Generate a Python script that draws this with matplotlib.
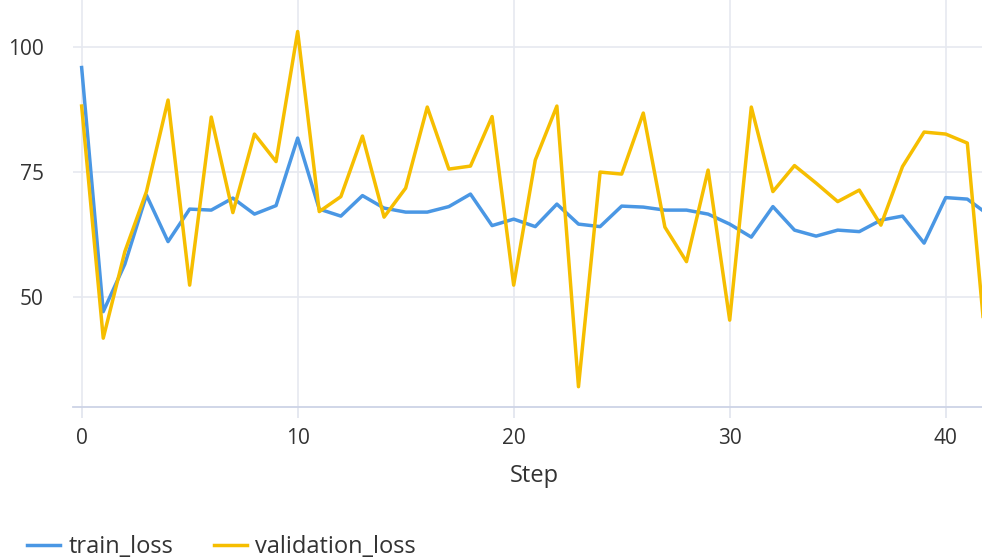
import matplotlib
matplotlib.use("Agg")
import matplotlib.pyplot as plt

plt.rcParams['font.family'] = ['Open Sans', 'DejaVu Sans']

steps = list(range(43))
train_loss = [95.8, 47.0, 56.5, 70.3, 61.0, 67.5, 67.3, 69.7, 66.5, 68.2,
              81.7, 67.5, 66.1, 70.2, 67.7, 66.9, 66.9, 68.0, 70.5, 64.2,
              65.5, 64.0, 68.5, 64.5, 64.0, 68.1, 67.9, 67.3, 67.3, 66.5,
              64.5, 61.9, 68.0, 63.3, 62.1, 63.3, 63.0, 65.3, 66.1, 60.7,
              69.8, 69.5, 66.3]
validation_loss = [88.1, 41.7, 59.0, 71.0, 89.3, 52.3, 85.9, 66.8, 82.5, 77.0,
                   103.0, 67.0, 70.0, 82.1, 65.9, 71.7, 87.9, 75.5, 76.1, 86.0,
                   52.3, 77.3, 88.1, 32.0, 74.9, 74.5, 86.7, 63.9, 57.0, 75.3,
                   45.3, 87.9, 71.0, 76.2, 72.7, 69.0, 71.3, 64.3, 76.0, 82.9,
                   82.5, 80.7, 33.0]
x_ticks = [0, 10, 20, 30, 40]
y_ticks = [50, 75, 100]

W, H = 982, 559
fig = plt.figure(figsize=(W / 100, H / 100), dpi=100)
fig.patch.set_facecolor('white')
ax = fig.add_axes([73 / W, (H - 406.7) / H, (W - 73) / W, 406.7 / H])

blue = '#4A97E4'
gold = '#F6BE00'
ax.plot(steps, train_loss, color=blue, lw=2.5, label='train_loss', zorder=3)
ax.plot(steps, validation_loss, color=gold, lw=2.5, label='validation_loss', zorder=3)

ax.set_xlim(-0.4, 41.68)
ax.set_ylim(28.0, 109.3)
ax.set_xticks(x_ticks)
ax.set_yticks(y_ticks)

ax.grid(True, color='#E6E9F0', lw=1.2, zorder=0)
for s in ['top', 'right', 'left']:
    ax.spines[s].set_visible(False)
ax.spines['bottom'].set_color('#CDD3E6')
ax.spines['bottom'].set_linewidth(1.3)
ax.tick_params(axis='x', length=8, width=1.2, color='#E0E4EE', labelsize=15,
               labelcolor='#333333', pad=7)
ax.tick_params(axis='y', length=0, labelsize=15, labelcolor='#333333', pad=21)

fig.text(534 / W, 1 - 476 / H, 'Step', ha='center', va='center', fontsize=17,
         color='#333333')

fig.legend(loc='center left', bbox_to_anchor=(6 / W, 1 - 547 / H), ncol=2,
           frameon=False, fontsize=17, handlelength=1.4, handletextpad=0.35,
           columnspacing=1.7, labelcolor='#333333')

fig.savefig('out.png', dpi=100, facecolor='white')
